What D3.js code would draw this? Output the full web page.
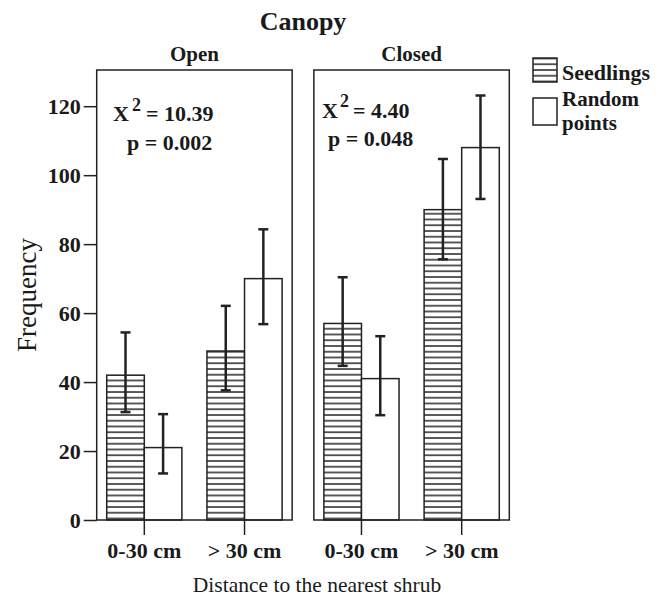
<!DOCTYPE html>
<html>
<head>
<meta charset="utf-8">
<script src="https://cdn.jsdelivr.net/npm/d3@7"></script>
<style>
  body { margin:0; background:#fff; }
  text { font-family:"Liberation Serif", "Times New Roman", serif; fill:#1a1a1a; }
</style>
</head>
<body>
<script>
// panels, categories and series
var panels = ["Open", "Closed"];
var distances = ["0-30 cm", "> 30 cm"];
var series = ["Seedlings", "Random points"];

// bar heights (frequency) per panel, per distance
var seedlings = [[42, 49], [57, 90]];
var randomPts = [[21, 70], [41, 108]];
// error bar limits
var seedLow  = [[31.3, 37.6], [44.7, 75.6]];
var seedHigh = [[54.4, 62.1], [70.4, 104.7]];
var randLow  = [[13.5, 56.8], [30.4, 93.1]];
var randHigh = [[30.7, 84.3], [53.3, 123.1]];

var chiLabels = ["= 10.39", "= 4.40"];
var pLabels = ["p = 0.002", "p = 0.048"];
var yTicks = [0, 20, 40, 60, 80, 100, 120];

var width = 664, height = 598;
var svg = d3.select("body").append("svg")
  .attr("width", width).attr("height", height);

var defs = svg.append("defs");
var pat = defs.append("pattern")
  .attr("id", "hatch")
  .attr("patternUnits", "userSpaceOnUse")
  .attr("width", 8).attr("height", 5.75);
pat.append("rect").attr("width", 8).attr("height", 5.75).attr("fill", "#fff");
pat.append("line").attr("x1", 0).attr("x2", 8).attr("y1", 1).attr("y2", 1)
  .attr("stroke", "#333").attr("stroke-width", 1.6);

var yScale = d3.scaleLinear().domain([0, 130.5]).range([520, 70]);

var panelX = d3.scaleBand().domain(panels).range([96.7, 509.3]).paddingInner(0.1);

var stroke = "#222";

svg.append("text").attr("x", 303).attr("y", 30)
  .attr("text-anchor", "middle").attr("font-size", 26).attr("font-weight", "bold")
  .text("Canopy");

// y axis
var yAxis = d3.axisLeft(yScale).tickValues(yTicks).tickSize(13).tickPadding(3);
var yg = svg.append("g").attr("transform", "translate(96.7,0)").call(yAxis);
yg.select(".domain").remove();
yg.selectAll("line").attr("stroke", stroke).attr("stroke-width", 1.5);
yg.selectAll("text").attr("font-size", 22).attr("font-weight", "bold")
  .attr("font-family", "Liberation Serif").attr("fill", "#1a1a1a");

svg.append("text")
  .attr("transform", "translate(36,295) rotate(-90)")
  .attr("text-anchor", "middle").attr("font-size", 27)
  .text("Frequency");

// position of the chi-square / p text in each panel
var statPos = [
  {x: 113, y: 121, sx: 132, sy: 111, ex: 146, px: 127, py: 150},
  {x: 322, y: 118, sx: 340, sy: 107, ex: 353, px: 328, py: 146}
];

panels.forEach(function(p, i) {
  var x0 = panelX(p), w = panelX.bandwidth();
  var g = svg.append("g");

  var xScale = d3.scaleBand().domain(distances).range([x0, x0 + w])
    .paddingInner(0.25).paddingOuter(0.1);
  var half = xScale.bandwidth() / 2;

  g.append("text").attr("x", x0 + w / 2).attr("y", 61)
    .attr("text-anchor", "middle").attr("font-size", 21).attr("font-weight", "bold")
    .text(p);

  distances.forEach(function(d, j) {
    var bx = xScale(d);
    // seedlings bar
    g.append("rect").attr("x", bx).attr("y", yScale(seedlings[i][j]))
      .attr("width", half).attr("height", yScale(0) - yScale(seedlings[i][j]))
      .attr("fill", "url(#hatch)").attr("stroke", stroke).attr("stroke-width", 1.5);
    // random bar
    g.append("rect").attr("x", bx + half).attr("y", yScale(randomPts[i][j]))
      .attr("width", half).attr("height", yScale(0) - yScale(randomPts[i][j]))
      .attr("fill", "#fff").attr("stroke", stroke).attr("stroke-width", 1.5);

    [[bx + half / 2, seedLow[i][j], seedHigh[i][j]],
     [bx + half * 1.5, randLow[i][j], randHigh[i][j]]].forEach(function(e) {
      g.append("line").attr("x1", e[0]).attr("x2", e[0])
        .attr("y1", yScale(e[1])).attr("y2", yScale(e[2]))
        .attr("stroke", stroke).attr("stroke-width", 2.5);
      [e[1], e[2]].forEach(function(v) {
        g.append("line").attr("x1", e[0] - 5).attr("x2", e[0] + 5)
          .attr("y1", yScale(v)).attr("y2", yScale(v))
          .attr("stroke", stroke).attr("stroke-width", 2.5);
      });
    });
  });

  // frame
  g.append("rect").attr("x", x0).attr("y", yScale.range()[1])
    .attr("width", w).attr("height", yScale(0) - yScale.range()[1])
    .attr("fill", "none").attr("stroke", stroke).attr("stroke-width", 1.5);

  // x axis ticks, placed between the two bars of each group
  var xAxis = d3.axisBottom(xScale).tickSize(15).tickPadding(7);
  var xg = g.append("g").attr("transform", "translate(0,520)").call(xAxis);
  xg.selectAll(".tick").attr("transform", function(d) { return "translate(" + (xScale(d) + half) + ",0)"; });
  xg.select(".domain").remove();
  xg.selectAll("line").attr("stroke", stroke).attr("stroke-width", 1.5);
  xg.selectAll("text").attr("font-size", 22).attr("font-weight", "bold")
    .attr("font-family", "Liberation Serif").attr("fill", "#1a1a1a");

  // statistics
  var sp = statPos[i];
  g.append("text").attr("x", sp.x).attr("y", sp.y)
    .attr("font-size", 22).attr("font-weight", "bold").text("X");
  g.append("text").attr("x", sp.sx).attr("y", sp.sy)
    .attr("font-size", 18).attr("font-weight", "bold").text("2");
  g.append("text").attr("x", sp.ex).attr("y", sp.y)
    .attr("font-size", 22).attr("font-weight", "bold").text(chiLabels[i]);
  g.append("text").attr("x", sp.px).attr("y", sp.py)
    .attr("font-size", 22).attr("font-weight", "bold").text(pLabels[i]);
});

svg.append("text").attr("x", 317).attr("y", 592)
  .attr("text-anchor", "middle").attr("font-size", 21.5)
  .text("Distance to the nearest shrub");

// legend
var lg = svg.append("g").attr("transform", "translate(533,0)");
lg.append("rect").attr("x", 0).attr("y", 58).attr("width", 24).attr("height", 24)
  .attr("fill", "url(#hatch)").attr("stroke", stroke).attr("stroke-width", 1.5);
lg.append("text").attr("x", 29).attr("y", 80).attr("font-size", 22).attr("font-weight", "bold")
  .text(series[0]);
lg.append("rect").attr("x", 0).attr("y", 98).attr("width", 24).attr("height", 27)
  .attr("fill", "#fff").attr("stroke", stroke).attr("stroke-width", 1.5);
lg.append("text").attr("x", 29).attr("y", 106).attr("font-size", 21).attr("font-weight", "bold")
  .text(series[1].split(" ")[0]);
lg.append("text").attr("x", 29).attr("y", 130).attr("font-size", 21).attr("font-weight", "bold")
  .text(series[1].split(" ")[1]);
</script>
</body>
</html>
